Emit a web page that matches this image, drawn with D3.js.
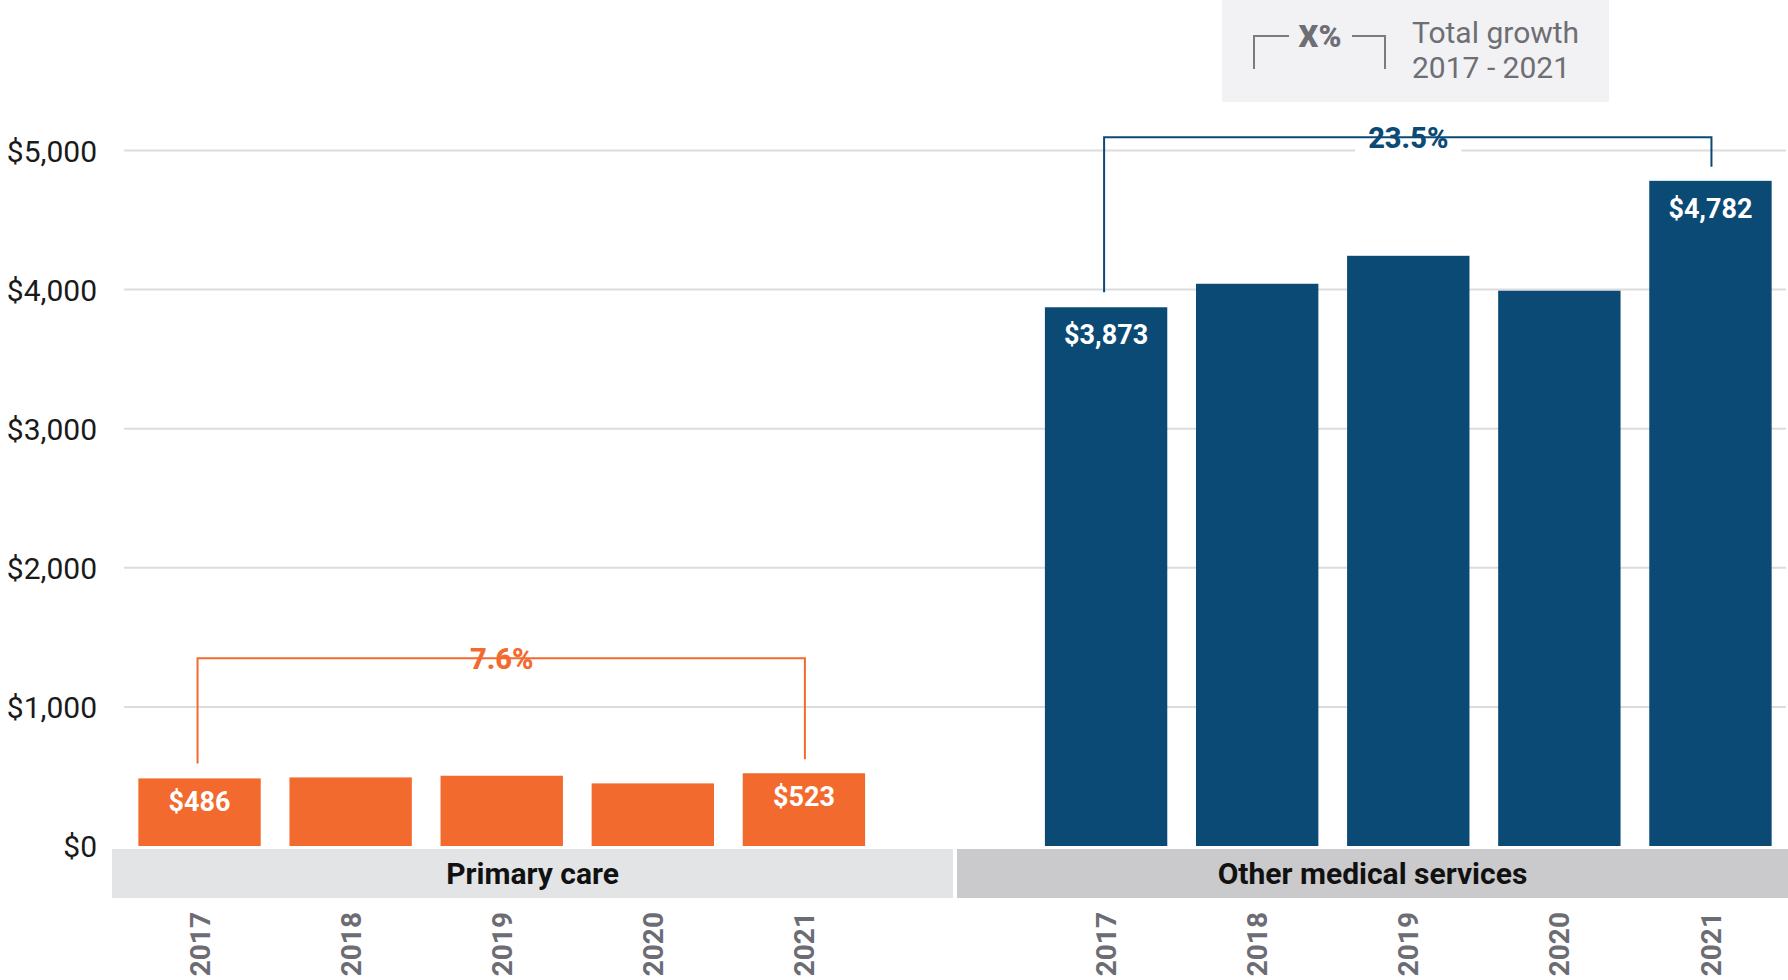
<!DOCTYPE html>
<html>
<head>
<meta charset="utf-8">
<script src="https://cdn.jsdelivr.net/npm/d3@7"></script>
<style>
  html, body { margin: 0; padding: 0; background: #ffffff; }
  svg { display: block; font-family: Roboto, "Noto Sans", "Liberation Sans", sans-serif; }
</style>
</head>
<body>
<svg id="chart" width="1788" height="980"></svg>
<script>
// ---------------- data ----------------
const groups = ["Primary care", "Other medical services"];
const years = ["2017", "2018", "2019", "2020", "2021"];
const primaryCare = [486, 493, 505, 450, 523];
const otherMedical = [3873, 4042, 4243, 3992, 4782];
const growthLabels = ["7.6%", "23.5%"];
const yTicks = [0, 1000, 2000, 3000, 4000, 5000];
const legendKey = "X%";
const legendText = ["Total growth", "2017 - 2021"];

// ---------------- layout / style ----------------
const W = 1788, H = 980;
const colors = ["#f26a2e", "#0b4a74"];
const bandFills = ["#e3e4e6", "#cacacc"];
const bracketLevel = [1350, 5095]; // data units where growth brackets sit

const series = [primaryCare, otherMedical];
const svg = d3.select("#chart");

const y = d3.scaleLinear().domain([0, 5000]).range([846, 150.5]);

// one band slot per bar, plus one empty slot between the groups
const slots = [];
groups.forEach((g, gi) => {
  years.forEach(yr => slots.push(g + "|" + yr));
  if (gi < groups.length - 1) slots.push("gap");
});
const x = d3.scaleBand().domain(slots).range([124, 1786]).paddingInner(0.19).paddingOuter(0.095);
const gapCenter = x("gap") + x.bandwidth() / 2;

// gridlines
svg.append("g").selectAll("line").data(yTicks.filter(d => d > 0)).join("line")
  .attr("x1", 124).attr("x2", 1786)
  .attr("y1", d => y(d)).attr("y2", d => y(d))
  .attr("stroke", "#dcdcdc").attr("stroke-width", 2);

// y axis labels
const yAxis = d3.axisLeft(y).tickValues(yTicks).tickSize(0).tickPadding(0)
  .tickFormat(d => "$" + d3.format(",")(d));
const ya = svg.append("g").attr("transform", "translate(97,0)").call(yAxis);
ya.select(".domain").remove();
ya.selectAll("text").attr("font-size", 30).attr("fill", "#1a1a1a")
  .attr("font-family", "Roboto, sans-serif").attr("dy", "0.35em");

// legend box
const lg = svg.append("g");
lg.append("rect").attr("x", 1222).attr("y", 0).attr("width", 387).attr("height", 102).attr("fill", "#f2f2f4");
lg.append("path").attr("d", "M1254,69 V36 H1289 M1352,36 H1385 V69")
  .attr("fill", "none").attr("stroke", "#7a7a80").attr("stroke-width", 2);
lg.append("text").attr("x", 1320).attr("y", 47).attr("text-anchor", "middle")
  .attr("font-size", 31).attr("font-weight", 900).attr("fill", "#6e6e75").text(legendKey);
lg.selectAll("text.lt").data(legendText).join("text").attr("class", "lt")
  .attr("x", 1412).attr("y", (d, i) => 43 + i * 35)
  .attr("font-size", 30).attr("fill", "#6e6e75").text(d => d);

// group bands
const bandX = [[112, gapCenter - 2], [gapCenter + 2, 1788]];
groups.forEach((g, gi) => {
  svg.append("rect").attr("x", bandX[gi][0]).attr("y", 849)
    .attr("width", bandX[gi][1] - bandX[gi][0]).attr("height", 49)
    .attr("fill", bandFills[gi]);
  svg.append("text").attr("x", (bandX[gi][0] + bandX[gi][1]) / 2).attr("y", 884)
    .attr("text-anchor", "middle").attr("font-size", 30).attr("font-weight", 700)
    .attr("fill", "#111").text(g);
});

// bars, labels, year ticks, brackets
groups.forEach((g, gi) => {
  const vals = series[gi];
  const data = years.map((yr, i) => ({ key: g + "|" + yr, year: yr, value: vals[i], i }));
  const gg = svg.append("g");
  gg.selectAll("rect").data(data).join("rect")
    .attr("x", d => x(d.key)).attr("width", x.bandwidth())
    .attr("y", d => y(d.value)).attr("height", d => y(0) - y(d.value))
    .attr("fill", colors[gi]);

  // value labels on first and last bar
  gg.selectAll("text.val").data([data[0], data[data.length - 1]]).join("text").attr("class", "val")
    .attr("x", d => x(d.key) + x.bandwidth() / 2).attr("y", d => y(d.value) + (gi === 1 ? 37 : 33))
    .attr("text-anchor", "middle").attr("font-size", 27).attr("font-weight", 700)
    .attr("fill", "#ffffff").text(d => "$" + d3.format(",")(d.value));

  // rotated year labels
  gg.selectAll("text.yr").data(data).join("text").attr("class", "yr")
    .attr("transform", d => `translate(${x(d.key) + x.bandwidth() / 2},912) rotate(-90)`)
    .attr("text-anchor", "end").attr("dy", "0.36em")
    .attr("font-size", 28).attr("font-weight", 700).attr("fill", "#6c6c74").text(d => d.year);

  // growth bracket
  const first = data[0], last = data[data.length - 1];
  const x1 = x(first.key) + x.bandwidth() / 2 - 2;
  const x2 = x(last.key) + x.bandwidth() / 2 + 1;
  const ly = y(bracketLevel[gi]);
  gg.append("path")
    .attr("d", `M${x1},${y(first.value) - 15} V${ly} H${x2} V${y(last.value) - 14}`)
    .attr("fill", "none").attr("stroke", colors[gi]).attr("stroke-width", 2);
  const mid = x(data[2].key) + x.bandwidth() / 2;
  const lbl = gg.append("text").attr("x", mid).attr("y", ly + 11)
    .attr("text-anchor", "middle").attr("font-size", 29).attr("font-weight", 800)
    .attr("fill", colors[gi]).text(growthLabels[gi]);
  const bb = lbl.node().getBBox();
  gg.insert("rect", "text").attr("x", bb.x - 13).attr("y", ly - 16)
    .attr("width", bb.width + 26).attr("height", 33).attr("fill", "#ffffff");
});
</script>
</body>
</html>
